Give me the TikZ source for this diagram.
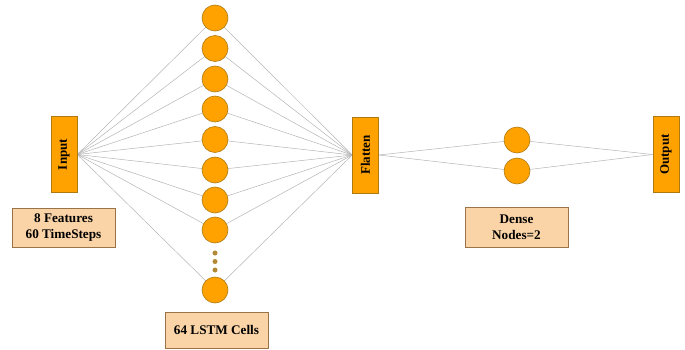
\documentclass[tikz,border=0pt]{standalone}
\usepackage{fontspec}
\setmainfont{Liberation Serif}
\usetikzlibrary{backgrounds}
\definecolor{nodeor}{HTML}{FFA200}
\definecolor{nodeedge}{HTML}{B07A10}
\definecolor{lblfill}{HTML}{FAD3A6}
\definecolor{lbledge}{HTML}{9A7448}
\definecolor{wire}{HTML}{B4B4B4}
\definecolor{dotcol}{HTML}{B08A3C}
\tikzset{
  layerbox/.style={draw=nodeedge, fill=nodeor, line width=0.6pt, minimum width=26pt, minimum height=76pt, inner sep=0pt, font=\bfseries\fontsize{13}{15}\selectfont},
  neuron/.style={circle, draw=nodeedge, fill=nodeor, line width=0.6pt, minimum size=26pt, inner sep=0pt},
  dotn/.style={circle, draw=nodeedge, fill=dotcol, line width=0.3pt, minimum size=4.5pt, inner sep=0pt},
  lbl/.style={draw=lbledge, fill=lblfill, line width=0.6pt, inner sep=0pt, align=center, font=\bfseries\fontsize{13.2}{15.5}\selectfont},
  wireline/.style={draw=wire, line width=0.5pt}
}
\begin{document}
\begin{tikzpicture}[x=1pt,y=-1pt]
\useasboundingbox (0,0) rectangle (685,350);
\node[layerbox] (inp) at (64,154.5) {\rotatebox{90}{Input}};
\node[layerbox] (flat) at (365.5,155) {\rotatebox{90}{Flatten}};
\node[layerbox] (out) at (666,154.5) {\rotatebox{90}{Output}};
\foreach \i/\y in {1/18,2/48.5,3/79,4/109,5/139.5,6/170,7/200,8/230,9/290}{
  \node[neuron] (l\i) at (215,\y) {};
}
\node[dotn] (d1) at (215,253) {};
\node[dotn] (d2) at (215,261.5) {};
\node[dotn] (d3) at (215,270) {};
\node[neuron] (e1) at (517,140) {};
\node[neuron] (e2) at (517,171) {};
\node[lbl, minimum width=103pt, minimum height=39pt] (lin) at (63.5,227.5) {8 Features\\60 TimeSteps};
\node[lbl, minimum width=103pt, minimum height=36pt] (llstm) at (216.5,330) {64 LSTM Cells};
\node[lbl, minimum width=103pt, minimum height=40pt] (lden) at (516.5,227) {Dense\\Nodes=2};
\begin{scope}[on background layer]
\foreach \i in {1,...,9}{
  \draw[wireline] (inp.east) -- (l\i.center) -- (flat.west);
}
\foreach \i in {1,2}{
  \draw[wireline] (flat.east) -- (e\i.center) -- (out.west);
}
\end{scope}
\end{tikzpicture}
\end{document}
